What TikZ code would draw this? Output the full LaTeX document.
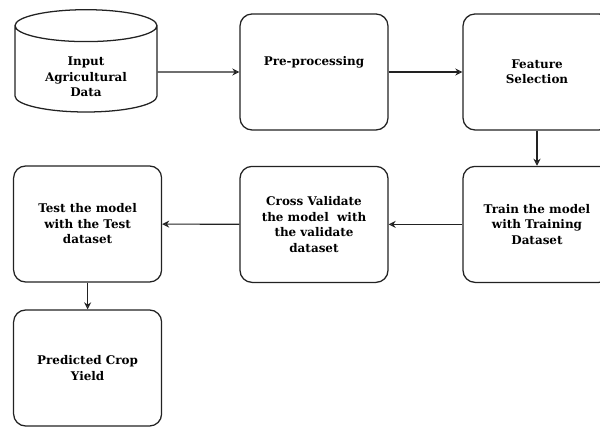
\documentclass[tikz,border=0pt]{standalone}
\usepackage{fontspec}
\setmainfont{DejaVu Serif}
\definecolor{InkColor}{RGB}{34,34,34}
\usepackage{tikz}
\usetikzlibrary{positioning, arrows.meta, shapes.geometric}
\tikzstyle{block} = [rectangle, rounded corners=0.3cm, draw=InkColor, line width=0.9pt, minimum width=3.7cm, minimum height=2.9cm, align=center, font=\fontsize{8.5}{11}\selectfont\bfseries]
\tikzstyle{store} = [cylinder, shape border rotate=90, aspect=0.35, draw=InkColor, line width=0.9pt, minimum width=3.55cm, minimum height=2.45cm, align=center, font=\fontsize{8.5}{11}\selectfont\bfseries]
\tikzstyle{arrow} = [line width=0.8pt, InkColor, -{Stealth[open, length=5pt, width=5pt]}]

\begin{document}
\begin{tikzpicture}
    \useasboundingbox[fill=white] (0,0) rectangle (15,10.75);
    % Top row
    \node[store] (input) at (2.15,8.95) {\mbox{}\\[0.3em]Input\\Agricultural\\Data};
    \node[block] (prep) at (7.85,8.95) {Pre-processing\\[0.6em]};
    \node[block] (feat) at (13.425,8.95) {Feature\\Selection};
    % Middle row
    \node[block] (train) at (13.425,5.14) {Train the model\\with Training\\Dataset};
    \node[block] (cross) at (7.85,5.14) {Cross Validate\\the model\ \ with\\the validate\\dataset};
    \node[block] (test) at (2.19,5.15) {Test the model\\with the Test\\dataset};
    % Bottom row
    \node[block] (pred) at (2.19,1.55) {Predicted Crop\\Yield};

    \draw[arrow] (input) -- (prep);
    \draw[arrow] (prep) -- (feat);
    \draw[arrow] (feat) -- (train);
    \draw[arrow] (train) -- (cross);
    \draw[arrow] (cross) -- (test);
    \draw[arrow] (test) -- (pred);
\end{tikzpicture}
\end{document}
